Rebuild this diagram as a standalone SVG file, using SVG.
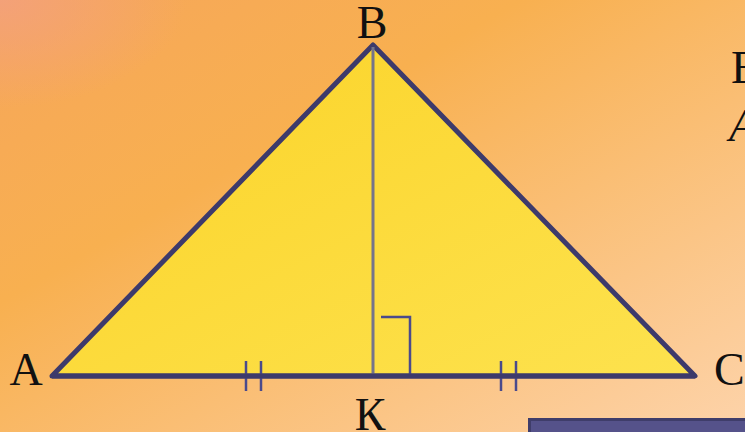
<svg xmlns="http://www.w3.org/2000/svg" width="745" height="432" viewBox="0 0 745 432">
<defs>
<linearGradient id="bg" x1="0" y1="0" x2="1" y2="1">
<stop offset="0" stop-color="#F6A65A"/>
<stop offset="0.35" stop-color="#F8B050"/>
<stop offset="1" stop-color="#FDD3AA"/>
</linearGradient>
<radialGradient id="corner" cx="0" cy="0" r="0.25">
<stop offset="0" stop-color="#F3A080" stop-opacity="0.8"/>
<stop offset="1" stop-color="#F3A080" stop-opacity="0"/>
</radialGradient>
<linearGradient id="tri" x1="0" y1="0" x2="1" y2="1">
<stop offset="0" stop-color="#FBD328"/>
<stop offset="1" stop-color="#FDE24E"/>
</linearGradient>
<style>
.lbl{font-family:"Liberation Serif","Times New Roman",serif;font-size:46px;fill:#111}
.mark{stroke:#4A4A8C;stroke-width:2.5;fill:none}
</style>
</defs>
<rect width="745" height="432" fill="url(#bg)"/>
<rect width="745" height="432" fill="url(#corner)"/>
<g id="triangle">
<polygon points="52,376 373,45 695,376" fill="url(#tri)" stroke="#3D3A6B" stroke-width="5" stroke-linejoin="round"/>
</g>
<g id="connectors">
<line x1="373" y1="47" x2="373" y2="376" stroke="#75748A" stroke-width="3"/>
<polyline class="mark" points="381,317 410,317 410,376"/>
<line class="mark" x1="246" y1="361" x2="246" y2="391"/>
<line class="mark" x1="261" y1="361" x2="261" y2="391"/>
<line class="mark" x1="501" y1="361" x2="501" y2="391"/>
<line class="mark" x1="516" y1="361" x2="516" y2="391"/>
<line x1="52" y1="376" x2="695" y2="376" stroke="#3D3A6B" stroke-width="5"/>
</g>
<g id="labels">
<text class="lbl" x="372" y="38" text-anchor="middle">B</text>
<text class="lbl" x="26" y="385" text-anchor="middle">A</text>
<text class="lbl" x="714" y="385">C</text>
<text class="lbl" x="370" y="430" text-anchor="middle">К</text>
<text class="lbl" x="731" y="83" font-size="44">В</text>
<text class="lbl" x="729" y="141" font-size="44" font-style="italic">A</text>
</g>
<g id="box">
<rect x="529.5" y="419.5" width="230" height="30" fill="#55528A" stroke="#3F3D6A" stroke-width="3"/>
</g>
</svg>
